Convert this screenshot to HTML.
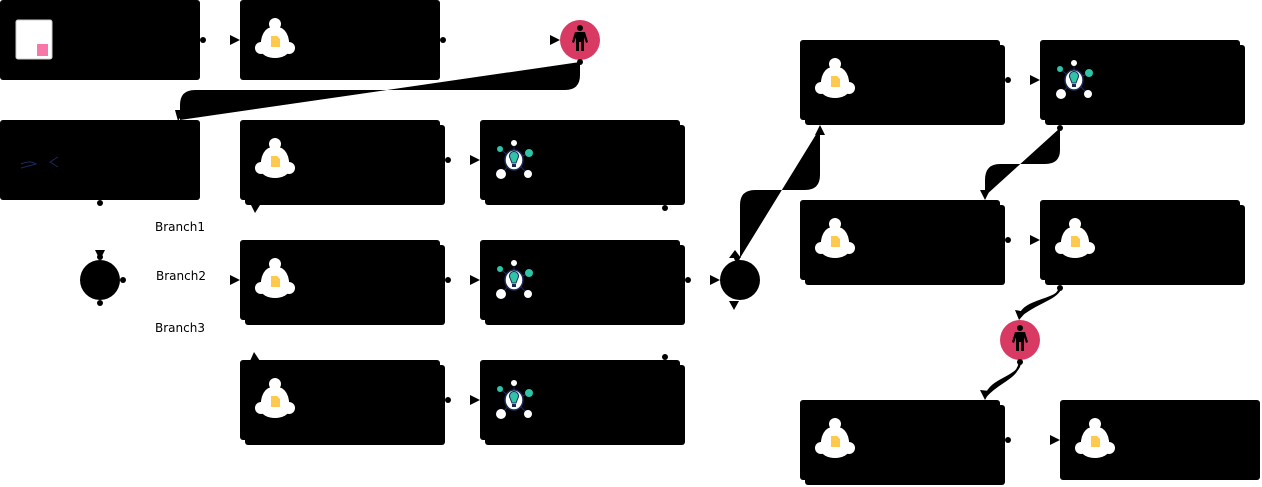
<!DOCTYPE html>
<html><head><meta charset="utf-8"><style>html,body{margin:0;padding:0;background:#fff;width:1262px;height:487px;overflow:hidden}svg{display:block}text{font-family:"DejaVu Sans","Liberation Sans",sans-serif;font-size:12px;fill:#000}</style></head>
<body>
<svg width="1262" height="487" viewBox="0 0 1262 487" xmlns="http://www.w3.org/2000/svg">
<defs>
<g id="bell">
<circle cx="0" cy="-18" r="6" fill="#fff"/>
<path d="M-14,8 Q-16,-14 0,-16 Q16,-14 14,8 Z" fill="#fff"/>
<circle cx="-14" cy="6" r="6" fill="#fff"/><circle cx="14" cy="6" r="6" fill="#fff"/>
<ellipse cx="0" cy="8" rx="14" ry="8" fill="#fff"/>
<path d="M-4,-6 H2 L5,-3 V5 H-4 Z" fill="#ffc94d"/>
</g>
<g id="bulb">
<g stroke="#1c2a5a" stroke-width="1"><line x1="0" y1="0" x2="0" y2="-17"/><line x1="0" y1="0" x2="-14" y2="-11"/><line x1="0" y1="0" x2="15" y2="-7"/><line x1="0" y1="0" x2="-13" y2="14"/><line x1="0" y1="0" x2="14" y2="14"/></g>
<circle cx="0" cy="-17" r="3" fill="#fff"/>
<circle cx="-14" cy="-11" r="3" fill="#2ec4a5"/>
<circle cx="15" cy="-7" r="4" fill="#2ec4a5"/>
<circle cx="-13" cy="14" r="5" fill="#fff"/>
<circle cx="14" cy="14" r="4" fill="#fff"/>
<ellipse cx="0" cy="0" rx="9" ry="10" fill="#fff" stroke="#1c2a5a" stroke-width="1.5"/>
<path d="M-4,-2 A4.5,4.5 0 1 1 4,-2 L2,3 H-2 Z" fill="#2ec4a5" stroke="#1c2a5a" stroke-width="1"/>
<rect x="-2" y="4" width="4" height="3" fill="#1c2a5a"/>
</g>
<g id="person">
<circle cx="0" cy="-12" r="3" fill="#000"/>
<path d="M-5,-8 H5 L8,2 L6,3 L4,-3 V11 H1 V2 H-1 V11 H-4 V-3 L-6,3 L-8,2 Z" fill="#000"/>
</g>
</defs>

<path d="M580,62 V75 Q580,90 565,90 H195 Q180,90 180,105 V120 Z" fill="#000"/>
<path d="M740,258 V205 Q740,190 755,190 H805 Q820,190 820,175 V128 Z" fill="#000"/>
<path d="M1060,128 V150 Q1060,164 1045,164 H1000 Q985,164 985,180 V196 Z" fill="#000"/>
<path d="M1060,288 C1060,300 1022,300 1020,316 C1040,300 1056,300 1060,288 Z" fill="#000" stroke="#000" stroke-width="2"/>
<path d="M1020,362 C1020,378 990,378 986,396 C1000,380 1016,380 1020,362 Z" fill="#000" stroke="#000" stroke-width="2"/>

<g fill="#000">
<rect x="0" y="0" width="200" height="80" rx="3"/>
<rect x="240" y="0" width="200" height="80" rx="3"/>
<rect x="0" y="120" width="200" height="80" rx="3"/>
<rect x="240" y="120" width="200" height="80" rx="3"/><rect x="245" y="125" width="200" height="80" rx="3"/>
<rect x="480" y="120" width="200" height="80" rx="3"/><rect x="485" y="125" width="200" height="80" rx="3"/>
<rect x="240" y="240" width="200" height="80" rx="3"/><rect x="245" y="245" width="200" height="80" rx="3"/>
<rect x="480" y="240" width="200" height="80" rx="3"/><rect x="485" y="245" width="200" height="80" rx="3"/>
<rect x="240" y="360" width="200" height="80" rx="3"/><rect x="245" y="365" width="200" height="80" rx="3"/>
<rect x="480" y="360" width="200" height="80" rx="3"/><rect x="485" y="365" width="200" height="80" rx="3"/>
<rect x="800" y="40" width="200" height="80" rx="3"/><rect x="805" y="45" width="200" height="80" rx="3"/>
<rect x="1040" y="40" width="200" height="80" rx="3"/><rect x="1045" y="45" width="200" height="80" rx="3"/>
<rect x="800" y="200" width="200" height="80" rx="3"/><rect x="805" y="205" width="200" height="80" rx="3"/>
<rect x="1040" y="200" width="200" height="80" rx="3"/><rect x="1045" y="205" width="200" height="80" rx="3"/>
<rect x="800" y="400" width="200" height="80" rx="3"/><rect x="805" y="405" width="200" height="80" rx="3"/>
<rect x="1060" y="400" width="200" height="80" rx="3"/>
<circle cx="100" cy="280" r="20"/>
<circle cx="740" cy="280" r="20"/>
</g>
<circle cx="580" cy="40" r="20" fill="#d93a63"/>
<circle cx="1020" cy="340" r="20" fill="#d93a63"/>
<use href="#person" x="580" y="40"/>
<use href="#person" x="1020" y="340"/>

<rect x="16" y="20" width="36" height="39" rx="2" fill="#fff" stroke="#ccc" stroke-width="1"/>
<rect x="37" y="44" width="11" height="12" fill="#f778a8"/>
<path d="M21,164 Q30,160 36,164 L21,168 M58,157 L50,162 L58,167" fill="none" stroke="#1c2a5a" stroke-width="1"/>

<use href="#bell" x="275" y="42"/>
<use href="#bell" x="275" y="162"/>
<use href="#bell" x="275" y="282"/>
<use href="#bell" x="275" y="402"/>
<use href="#bell" x="835" y="82"/>
<use href="#bell" x="835" y="242"/>
<use href="#bell" x="1075" y="242"/>
<use href="#bell" x="835" y="442"/>
<use href="#bell" x="1095" y="442"/>
<use href="#bulb" x="514" y="160"/>
<use href="#bulb" x="514" y="280"/>
<use href="#bulb" x="514" y="400"/>
<use href="#bulb" x="1074" y="80"/>

<g fill="#000">
<circle cx="203" cy="40" r="3"/><circle cx="443" cy="40" r="3"/><circle cx="580" cy="62" r="3"/>
<circle cx="100" cy="203" r="3"/><circle cx="448" cy="160" r="3"/><circle cx="665" cy="208" r="3"/>
<circle cx="123" cy="280" r="3"/><circle cx="100" cy="303" r="3"/><circle cx="100" cy="257" r="3"/>
<circle cx="448" cy="280" r="3"/><circle cx="688" cy="280" r="3"/><circle cx="665" cy="357" r="3"/>
<circle cx="448" cy="400" r="3"/><circle cx="737" cy="258" r="3"/>
<circle cx="1008" cy="80" r="3"/><circle cx="1060" cy="128" r="3"/><circle cx="1008" cy="240" r="3"/>
<circle cx="1060" cy="288" r="3"/><circle cx="1020" cy="362" r="3"/><circle cx="1008" cy="440" r="3"/>
</g>
<g fill="#000">
<path d="M230,35 L240,40 L230,45 Z"/><path d="M550,35 L560,40 L550,45 Z"/>
<path d="M175,110 L185,110 L178,121 Z"/>
<path d="M470,155 L480,160 L470,165 Z"/><path d="M470,275 L480,280 L470,285 Z"/><path d="M470,395 L480,400 L470,405 Z"/>
<path d="M230,275 L240,280 L230,285 Z"/><path d="M710,275 L720,280 L710,285 Z"/>
<path d="M95,250 L105,250 L100,260 Z"/>
<path d="M250,203 L260,205 L255,213 Z"/><path d="M250,361 L260,361 L254,352 Z"/>
<path d="M729,258 L741,258 L735,250 Z"/><path d="M729,301 L739,301 L734,310 Z"/>
<path d="M815,135 L825,135 L820,125 Z"/>
<path d="M980,190 L990,190 L985,200 Z"/>
<path d="M1030,75 L1040,80 L1030,85 Z"/><path d="M1030,235 L1040,240 L1030,245 Z"/><path d="M1050,435 L1060,440 L1050,445 Z"/>
<path d="M1015,310 L1026,312 L1019,320 Z"/><path d="M980,390 L990,391 L985,400 Z"/>
</g>
<text x="155" y="231">Branch1</text>
<text x="156" y="280">Branch2</text>
<text x="155" y="332">Branch3</text>
</svg>
</body></html>
